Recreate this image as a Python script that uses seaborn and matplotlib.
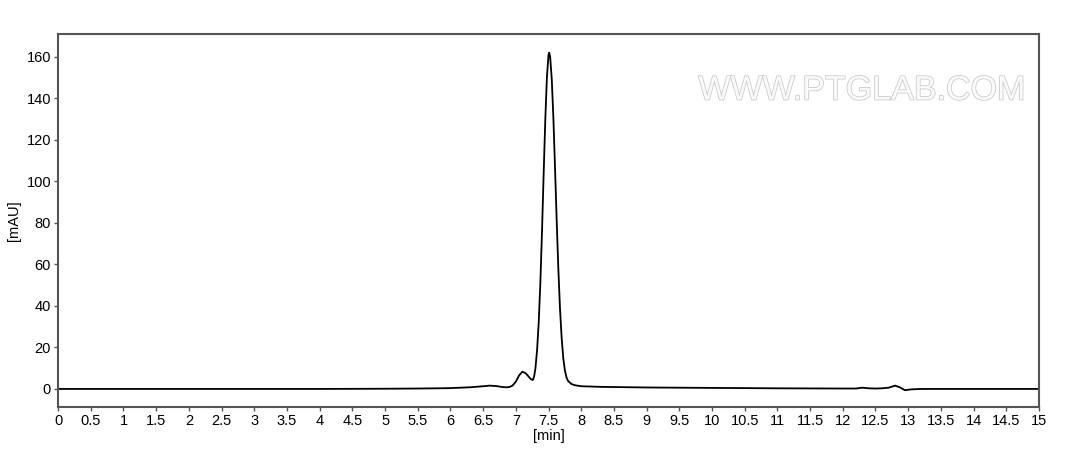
import matplotlib
matplotlib.use("Agg")
import matplotlib.pyplot as plt
import matplotlib.patheffects as pe
import numpy as np
import pandas as pd
import seaborn as sns

# Retention time (min) and absorbance (mAU)
time_min = [0.0, 1.0, 2.0, 3.0, 4.0, 5.0, 5.5, 5.8, 6.0, 6.3, 6.5, 6.6, 6.7, 6.8, 6.85,
            6.9, 6.95, 7.0, 7.05, 7.1, 7.15, 7.2, 7.23, 7.26, 7.28, 7.3, 7.325, 7.35,
            7.375, 7.4, 7.425, 7.45, 7.475, 7.5, 7.51, 7.525, 7.55, 7.575, 7.6, 7.625,
            7.65, 7.675, 7.7, 7.725, 7.75, 7.775, 7.8, 7.85, 7.9, 8.0, 8.3, 9.0, 10.0,
            10.5, 11.0, 12.0, 12.2, 12.3, 12.4, 12.5, 12.6, 12.7, 12.8, 12.87, 12.95,
            13.05, 13.2, 14.0, 15.0]
signal_mau = [0.0, 0.0, 0.0, 0.0, 0.0, 0.1, 0.2, 0.3, 0.4, 0.8, 1.3, 1.6, 1.4, 0.9, 0.8,
              0.9, 1.6, 3.5, 6.5, 8.3, 7.6, 5.8, 4.7, 4.3, 6.0, 10.0, 18.7, 32.0,
              51.0, 75.5, 103.0, 129.0, 150.0, 161.0, 162.0, 160.0, 149.0, 130.0, 106.0, 81.0,
              58.0, 39.0, 25.0, 15.0, 9.0, 5.5, 3.8, 2.4, 1.8, 1.3, 1.0, 0.7, 0.5,
              0.4, 0.3, 0.2, 0.2, 0.6, 0.3, 0.2, 0.3, 0.6, 1.6, 0.8, -0.6,
              -0.2, 0.0, 0.0, 0.0]

x_ticks = [i * 0.5 for i in range(31)]
x_tick_labels = ["0", "0.5", "1", "1.5", "2", "2.5", "3", "3.5", "4", "4.5", "5", "5.5",
                 "6", "6.5", "7", "7.5", "8", "8.5", "9", "9.5", "10", "10.5", "11", "11.5",
                 "12", "12.5", "13", "13.5", "14", "14.5", "15"]
y_ticks = [0, 20, 40, 60, 80, 100, 120, 140, 160]

sns.set_style("ticks")
plt.rcParams["font.family"] = ["Liberation Sans", "DejaVu Sans"]

df = pd.DataFrame({"t": time_min, "y": signal_mau})

fig = plt.figure(figsize=(10.75, 4.55), dpi=100)
ax = fig.add_axes([0.054, 0.1055, 0.9125, 0.8198])
sns.lineplot(data=df, x="t", y="y", ax=ax, color="black", linewidth=1.3)

ax.set_xlim(0, 15)
ax.set_ylim(-8.7, 171)
ax.set_xticks(x_ticks)
ax.set_xticklabels(x_tick_labels)
ax.set_yticks(y_ticks)
ax.tick_params(axis="both", labelsize=10.5, length=3, width=1, color="#555555",
               labelcolor="black", pad=2)
ax.set_xlabel("[min]", fontsize=10.5, labelpad=1, color="black")
ax.set_ylabel("[mAU]", fontsize=10.5, labelpad=4, color="black")
for s in ax.spines.values():
    s.set_visible(True)
    s.set_color("#555555")
    s.set_linewidth(1.5)

wm = ax.text(0.9857, 0.847, "WWW.PTGLAB.COM", transform=ax.transAxes, ha="right", va="center",
             fontsize=24.5, color="#fafafa")
wm.set_path_effects([pe.withStroke(linewidth=1.1, foreground="#c8c8c8")])

fig.savefig("out.png", dpi=100)
